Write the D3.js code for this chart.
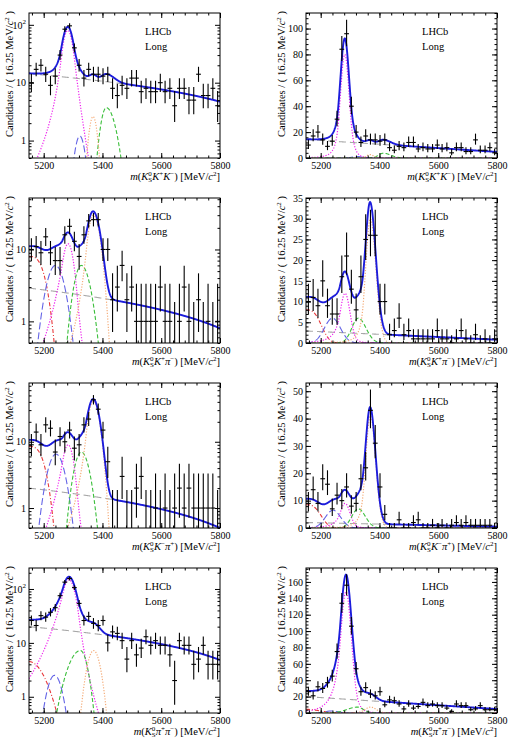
<!DOCTYPE html>
<html><head><meta charset="utf-8">
<script src="https://cdn.jsdelivr.net/npm/d3@7/dist/d3.min.js"></script>
<style>
body{margin:0;background:#fff}
svg{display:block;font-family:"Liberation Serif","DejaVu Serif",serif}
text{white-space:pre}
</style></head><body>
<svg id="chart" width="512" height="739"></svg>
<script>
// ---------------- data ----------------
const massLow = 5150, massHigh = 5800, binWidth = 16.25;
const xTickValues = [5200, 5400, 5600, 5800];
const xTickLabels = ["5200", "5400", "5600", "5800"];

// event counts per 16.25 MeV bin (40 bins, 5150-5800)
const countsKsKK    = [10,17,20,14,9,13,30,84,96,40,20,12,17,14,14,13,14,8,6,9,8,12,12,7,8,7,7,10,7,8,4,8,8,5,5,14,6,6,8,4];
const countsKsKpPim = [10,11,9,15,9,7,7,16,21,13,8,16,25,26,26,10,10,2,3,6,2,3,1,1,1,1,1,3,1,1,0,1,3,1,0,2,0,1,0,1];
const countsKsKmPip = [9,14,9,18,16,7,12,10,15,8,9,18,22,43,31,15,5,0,0,3,0,0,2,3,0,0,1,0,1,0,1,2,1,2,1,1,1,1,1,0];
const countsKsPiPi  = [26,21,32,30,37,45,75,134,156,106,54,26,31,23,21,26,10,16,15,11,5,11,6,8,13,9,11,9,9,6,2,11,9,9,4,5,9,4,4,4];

// fit components. peaks: [mean, height, sigmaL, sigmaR, alphaL, nL, alphaR, nR]
// combinatorial: [level at 5150, level at 5800]; partially reco: [height, start, width, power]
const kkComb   = [14.3, 4.7];
const kkB0     = [5282, 80, 15, 15, 1.5, 3, 1.5, 10];
const kkBlue   = [5323, 1.2, 15, 15, 99, 1, 99, 1];
const kkBs     = [5368, 2.6, 12, 12, 99, 1, 99, 1];
const kkGreen  = [5413, 3.7, 16, 25, 99, 1, 99, 1];

const kpComb   = [2.9, 0.8];
const kpPart   = [8, 5150, 61, 3];
const kpBlue   = [5240, 6, 27, 27, 99, 1, 99, 1];
const kpB0     = [5283, 12, 17, 17, 1.0, 3.5, 1.8, 5];
const kpGreen  = [5328, 6, 22, 26, 99, 1, 99, 1];
const kpBs     = [5369, 30, 16, 19, 1.5, 3, 99, 1];

const kmComb   = [2.0, 0.5];
const kmPart   = [8.5, 5150, 60, 3];
const kmBlue   = [5242, 6.5, 26, 26, 99, 1, 99, 1];
const kmB0     = [5283, 9, 17, 17, 1.0, 3.5, 1.8, 5];
const kmGreen  = [5328, 7, 22, 24, 99, 1, 99, 1];
const kmBs     = [5369, 41, 16, 18, 1.5, 3, 99, 1];

const ppComb   = [20, 4.8];
const ppPart   = [4.5, 5150, 64, 2];
const ppBlue   = [5237, 2.5, 22, 22, 99, 1, 99, 1];
const ppB0     = [5286, 148, 19, 19, 1.0, 4, 1.8, 5];
const ppGreen  = [5325, 7.2, 35, 20, 99, 1, 99, 1];
const ppBs     = [5370, 7.2, 19, 19, 99, 1, 99, 1];

// ---------------- model shapes ----------------
function peak(m, p) {
  const [mu, h, sL, sR, aL, nL, aR, nR] = p;
  const t = m < mu ? (m - mu) / sL : (m - mu) / sR;
  if (t < -aL) { const A = Math.pow(nL / aL, nL) * Math.exp(-aL * aL / 2), B = nL / aL - aL; return h * A * Math.pow(B - t, -nL); }
  if (t > aR)  { const A = Math.pow(nR / aR, nR) * Math.exp(-aR * aR / 2), B = nR / aR - aR; return h * A * Math.pow(B + t, -nR); }
  return h * Math.exp(-t * t / 2);
}
function comb(m, p) { return p[0] + (p[1] - p[0]) * (m - massLow) / (massHigh - massLow); }
function partReco(m, p) { const d = Math.max(0, m - p[1]); return p[0] * Math.exp(-Math.pow(d / p[2], p[3])); }

const styles = {
  comb:  {stroke: "#a8a8a8", dash: "7,4",     w: 1.1},
  part:  {stroke: "#e8383a", dash: "4,2,1,2", w: 1.1},
  blue:  {stroke: "#6464e6", dash: "7,3",     w: 1.1},
  b0:    {stroke: "#ee22ee", dash: "1.2,1.6", w: 1.2},
  green: {stroke: "#3cbf3c", dash: "4,2.2",   w: 1.1},
  bs:    {stroke: "#f5ad7a", dash: "1.2,1.6", w: 1.2}
};

function rowModel(combP, partP, blueP, b0P, greenP, bsP) {
  const comps = [{k: "comb", f: m => comb(m, combP)}];
  if (partP) comps.push({k: "part", f: m => partReco(m, partP)});
  comps.push({k: "blue", f: m => peak(m, blueP)});
  comps.push({k: "b0", f: m => peak(m, b0P)});
  comps.push({k: "green", f: m => peak(m, greenP)});
  comps.push({k: "bs", f: m => peak(m, bsP)});
  return comps;
}

const rows = [
  {counts: countsKsKK,    h1: "K", q1: "+", h2: "K", q2: "\u2212", comps: rowModel(kkComb, null, kkBlue, kkB0, kkGreen, kkBs),
   logDom: [0.5, 160], logTicks: [1, 10, 100], linDom: [0, 112], linTicks: [0, 20, 40, 60, 80, 100], linMinor: 4},
  {counts: countsKsKpPim, h1: "K", q1: "+", h2: "\u03C0", q2: "\u2212", comps: rowModel(kpComb, kpPart, kpBlue, kpB0, kpGreen, kpBs),
   logDom: [0.5, 52], logTicks: [1, 10], linDom: [0, 35], linTicks: [0, 5, 10, 15, 20, 25, 30, 35], linMinor: 1},
  {counts: countsKsKmPip, h1: "K", q1: "\u2212", h2: "\u03C0", q2: "+", comps: rowModel(kmComb, kmPart, kmBlue, kmB0, kmGreen, kmBs),
   logDom: [0.5, 77], logTicks: [1, 10], linDom: [0, 53], linTicks: [0, 10, 20, 30, 40, 50], linMinor: 2},
  {counts: countsKsPiPi,  h1: "\u03C0", q1: "+", h2: "\u03C0", q2: "\u2212", comps: rowModel(ppComb, ppPart, ppBlue, ppB0, ppGreen, ppBs),
   logDom: [0.5, 245], logTicks: [1, 10, 100], linDom: [0, 177], linTicks: [0, 20, 40, 60, 80, 100, 120, 140, 160], linMinor: 4}
];

// ---------------- layout ----------------
const svg = d3.select("#chart");
const colX = [29, 306], colW = 191;
const rowTop = [13, 198, 383, 568], rowH = 145;
const FONT = "'Liberation Serif','DejaVu Serif',serif";

function poissonErr(n) {
  const hi = Math.sqrt(n + 0.75) + 1;
  const lo = n === 0 ? 0 : n - n * Math.pow(1 - 1 / (9 * n) - 1 / (3 * Math.sqrt(n)), 3);
  return [lo, hi];
}

function styleAxis(a) {
  a.select(".domain").remove();
  a.attr("font-family", FONT).attr("font-size", 10);
  a.selectAll("line").attr("stroke", "#000").attr("stroke-width", 1);
  return a;
}

function massTitle(g, x, y, r) {
  const t = g.append("text").attr("x", x).attr("y", y).attr("text-anchor", "end").attr("font-size", 10.5);
  t.append("tspan").attr("font-style", "italic").text("m");
  t.append("tspan").text("(");
  t.append("tspan").attr("font-style", "italic").text("K");
  t.append("tspan").attr("font-size", 7).attr("dy", -4).text("0");
  t.append("tspan").attr("font-size", 7).attr("dx", -3.5).attr("dy", 6.5).text("S");
  t.append("tspan").attr("font-style", "italic").attr("dy", -2.5).text(r.h1);
  t.append("tspan").attr("font-size", 7).attr("dy", -4).text(r.q1);
  t.append("tspan").attr("font-style", "italic").attr("dy", 4).text(r.h2);
  t.append("tspan").attr("font-size", 7).attr("dy", -4).text(r.q2);
  t.append("tspan").attr("dy", 4).text(") [MeV/");
  t.append("tspan").attr("font-style", "italic").text("c");
  t.append("tspan").attr("font-size", 7).attr("dy", -4).text("2");
  t.append("tspan").attr("dy", 4).text("]");
}

function yTitle(g, x, y) {
  const t = g.append("text").attr("transform", `translate(${x},${y}) rotate(-90)`)
    .attr("text-anchor", "end").attr("font-size", 10.5);
  t.append("tspan").text("Candidates / ( 16.25 MeV/");
  t.append("tspan").attr("font-style", "italic").text("c");
  t.append("tspan").attr("font-size", 7).attr("dy", -4).text("2");
  t.append("tspan").attr("dy", 4).text(" )");
}

const samples = d3.range(massLow, massHigh + 0.01, 1);
const binCenters = d3.range(40).map(i => massLow + binWidth * (i + 0.5));
const xMinor = d3.range(5160, massHigh + 0.01, 40);

rows.forEach((r, ri) => {
  [0, 1].forEach(ci => {
    const isLog = ci === 0;
    const x0 = colX[ci], y0 = rowTop[ri], x1 = x0 + colW, y1 = y0 + rowH;
    const g = svg.append("g");
    const x = d3.scaleLinear().domain([massLow, massHigh]).range([x0, x1]);
    const y = isLog ? d3.scaleLog().domain(r.logDom).range([y1, y0])
                    : d3.scaleLinear().domain(r.linDom).range([y1, y0]);
    const yv = v => isLog ? y(Math.max(v, 1e-4)) : y(v);
    const clipId = `clip${ri}${ci}`;
    g.append("clipPath").attr("id", clipId).append("rect")
      .attr("x", x0).attr("y", y0).attr("width", colW).attr("height", rowH);
    const plot = g.append("g").attr("clip-path", `url(#${clipId})`);

    // components
    const line = d3.line().x(d => x(d[0])).y(d => yv(d[1]));
    r.comps.forEach(c => {
      const s = styles[c.k];
      plot.append("path").datum(samples.map(m => [m, c.f(m)]))
        .attr("d", line).attr("fill", "none").attr("stroke", s.stroke)
        .attr("stroke-width", s.w).attr("stroke-dasharray", s.dash);
    });
    // total
    plot.append("path").datum(samples.map(m => [m, d3.sum(r.comps, c => c.f(m))]))
      .attr("d", line).attr("fill", "none").attr("stroke", "#1c1cdc").attr("stroke-width", 1.9);

    // data
    const dg = plot.append("g").attr("stroke", "#000").attr("stroke-width", 1.1);
    r.counts.forEach((n, i) => {
      const m = binCenters[i], [lo, hi] = poissonErr(n);
      const yTop = yv(n + hi);
      const yBot = (isLog && n - lo < r.logDom[0]) ? y1 + 2 : yv(n - lo);
      dg.append("line").attr("x1", x(m)).attr("x2", x(m)).attr("y1", yTop).attr("y2", yBot);
      if (!(isLog && n === 0)) {
        dg.append("line").attr("x1", x(m - binWidth / 2)).attr("x2", x(m + binWidth / 2))
          .attr("y1", yv(n)).attr("y2", yv(n));
      }
    });

    // frame
    g.append("rect").attr("x", x0).attr("y", y0).attr("width", colW).attr("height", rowH)
      .attr("fill", "none").attr("stroke", "#000").attr("stroke-width", 1);

    // x axes
    styleAxis(g.append("g").attr("transform", `translate(0,${y1})`)
      .call(d3.axisBottom(x).tickValues(xTickValues).tickFormat((d, i) => xTickLabels[i]).tickSize(-5).tickPadding(3.5)));
    styleAxis(g.append("g").attr("transform", `translate(0,${y1})`)
      .call(d3.axisBottom(x).tickValues(xMinor).tickFormat("").tickSize(-2.5)));
    styleAxis(g.append("g").attr("transform", `translate(0,${y0})`)
      .call(d3.axisTop(x).tickValues(xTickValues).tickFormat("").tickSize(-5)));
    styleAxis(g.append("g").attr("transform", `translate(0,${y0})`)
      .call(d3.axisTop(x).tickValues(xMinor).tickFormat("").tickSize(-2.5)));

    // y axes
    let majors, minors;
    if (isLog) {
      majors = r.logTicks;
      minors = [];
      [0.1, 1, 10, 100].forEach(dec => d3.range(2, 10).forEach(k => {
        const v = k * dec; if (v >= r.logDom[0] && v <= r.logDom[1]) minors.push(v);
      }));
    } else {
      majors = r.linTicks;
      minors = d3.range(r.linDom[0], r.linDom[1] + 1e-9, r.linMinor);
    }
    const yl = styleAxis(g.append("g").attr("transform", `translate(${x0},0)`)
      .call(d3.axisLeft(y).tickValues(majors).tickFormat(d => isLog && d === 100 ? "10" : String(d)).tickSize(-5).tickPadding(3)));
    if (isLog) {
      yl.selectAll(".tick text").filter(d => d === 100).append("tspan")
        .attr("font-size", 7).attr("dy", -4.5).text("2");
    }
    styleAxis(g.append("g").attr("transform", `translate(${x0},0)`)
      .call(d3.axisLeft(y).tickValues(minors).tickFormat("").tickSize(-2.5)));
    styleAxis(g.append("g").attr("transform", `translate(${x1},0)`)
      .call(d3.axisRight(y).tickValues(majors).tickFormat("").tickSize(-5)));
    styleAxis(g.append("g").attr("transform", `translate(${x1},0)`)
      .call(d3.axisRight(y).tickValues(minors).tickFormat("").tickSize(-2.5)));

    // titles
    massTitle(g, x1, y1 + 21.5, r);
    yTitle(g, ci === 0 ? 13 : 285, y0 - 2);
    g.append("text").attr("x", x0 + 116).attr("y", y0 + 22).attr("font-size", 10.5).text("LHCb");
    g.append("text").attr("x", x0 + 116).attr("y", y0 + 37).attr("font-size", 10.5).text("Long");
  });
});
</script></body></html>
